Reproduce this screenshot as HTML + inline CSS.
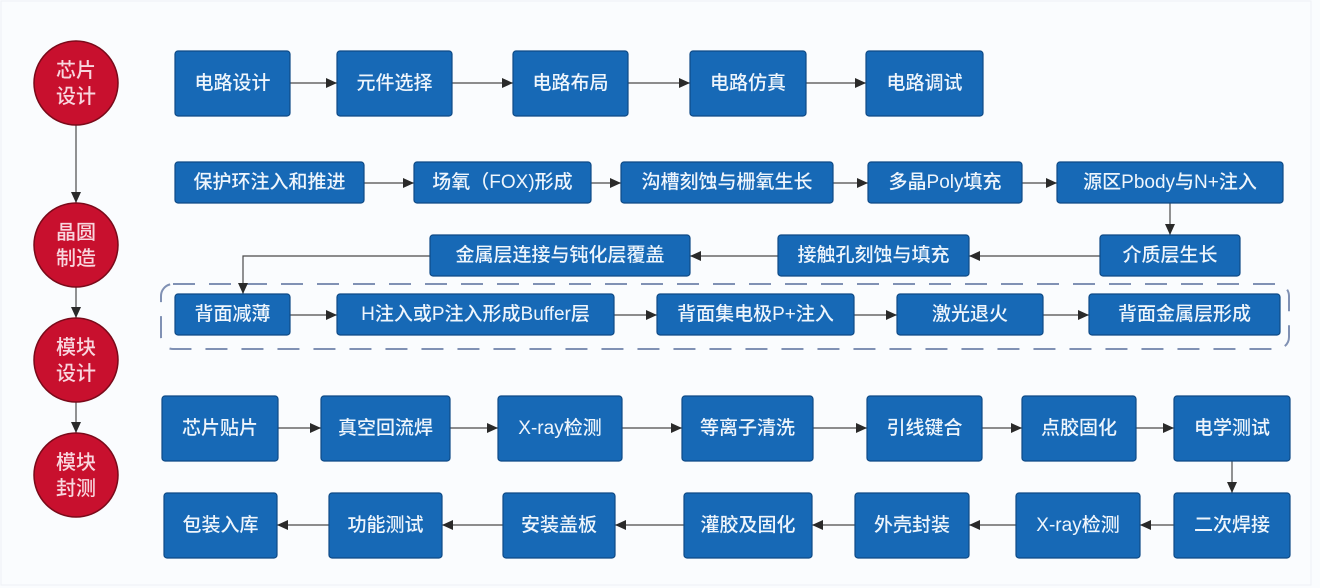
<!DOCTYPE html>
<html><head><meta charset="utf-8">
<style>
html,body{margin:0;padding:0;background:#fafcfe;}
svg{display:block;}
.b{fill:#1769b6;stroke:#0e4a86;stroke-width:1.2;}
.t{fill:#eef5fc;font-family:"Liberation Sans","Noto Sans CJK SC",sans-serif;font-size:19px;font-weight:500;text-anchor:middle;dominant-baseline:central;}
.c{fill:#c8102e;stroke:#7a0a1a;stroke-width:1.5;}
.ct{fill:#f8d6de;font-family:"Liberation Sans","Noto Sans CJK SC",sans-serif;font-size:20px;font-weight:500;text-anchor:middle;dominant-baseline:central;}
.l{stroke:#4a4a4a;stroke-width:1.2;fill:none;}
</style></head>
<body>
<svg width="1320" height="588" viewBox="0 0 1320 588" xmlns="http://www.w3.org/2000/svg">
<defs>
<marker id="a" markerWidth="12" markerHeight="10" refX="11" refY="5" orient="auto" markerUnits="userSpaceOnUse">
<path d="M0,0 L11,5 L0,10 z" fill="#2a2a2a"/>
</marker>
</defs>
<rect x="0" y="0" width="1320" height="588" fill="#fafcfe"/>
<rect x="1" y="1" width="1310" height="584" fill="none" stroke="#eef1f5" stroke-width="1"/>

<!-- left circles -->
<line class="l" x1="76" y1="125" x2="76" y2="203" marker-end="url(#a)"/>
<line class="l" x1="76" y1="287" x2="76" y2="318" marker-end="url(#a)"/>
<line class="l" x1="76" y1="402" x2="76" y2="433" marker-end="url(#a)"/>
<circle class="c" cx="76" cy="83" r="42"/>
<circle class="c" cx="76" cy="245" r="42"/>
<circle class="c" cx="76" cy="360" r="42"/>
<circle class="c" cx="76" cy="475" r="42"/>
<text class="ct" x="76" y="71">芯片</text><text class="ct" x="76" y="97">设计</text>
<text class="ct" x="76" y="233">晶圆</text><text class="ct" x="76" y="259">制造</text>
<text class="ct" x="76" y="348">模块</text><text class="ct" x="76" y="374">设计</text>
<text class="ct" x="76" y="463">模块</text><text class="ct" x="76" y="489">封测</text>

<!-- dashed group -->
<rect x="161" y="284" width="1128" height="65" rx="12" fill="none" stroke="#8091b4" stroke-width="2" stroke-dasharray="22 14"/>

<!-- connectors -->
<g class="l">
<line x1="290" y1="83" x2="337" y2="83" marker-end="url(#a)"/>
<line x1="452" y1="83" x2="513" y2="83" marker-end="url(#a)"/>
<line x1="628" y1="83" x2="690" y2="83" marker-end="url(#a)"/>
<line x1="806" y1="83" x2="866" y2="83" marker-end="url(#a)"/>

<line x1="364" y1="183" x2="414" y2="183" marker-end="url(#a)"/>
<line x1="591" y1="183" x2="621" y2="183" marker-end="url(#a)"/>
<line x1="833" y1="183" x2="868" y2="183" marker-end="url(#a)"/>
<line x1="1022" y1="183" x2="1057" y2="183" marker-end="url(#a)"/>
<line x1="1170" y1="203" x2="1170" y2="235" marker-end="url(#a)"/>

<line x1="1100" y1="256" x2="969" y2="256" marker-end="url(#a)"/>
<line x1="778" y1="256" x2="690" y2="256" marker-end="url(#a)"/>
<polyline points="430,256 243,256 243,294" marker-end="url(#a)"/>

<line x1="290" y1="315" x2="337" y2="315" marker-end="url(#a)"/>
<line x1="614" y1="315" x2="657" y2="315" marker-end="url(#a)"/>
<line x1="854" y1="315" x2="897" y2="315" marker-end="url(#a)"/>
<line x1="1043" y1="315" x2="1089" y2="315" marker-end="url(#a)"/>

<line x1="278" y1="428" x2="321" y2="428" marker-end="url(#a)"/>
<line x1="450" y1="428" x2="498" y2="428" marker-end="url(#a)"/>
<line x1="622" y1="428" x2="682" y2="428" marker-end="url(#a)"/>
<line x1="813" y1="428" x2="867" y2="428" marker-end="url(#a)"/>
<line x1="982" y1="428" x2="1022" y2="428" marker-end="url(#a)"/>
<line x1="1136" y1="428" x2="1174" y2="428" marker-end="url(#a)"/>
<line x1="1232" y1="461" x2="1232" y2="493" marker-end="url(#a)"/>

<line x1="1174" y1="525" x2="1140" y2="525" marker-end="url(#a)"/>
<line x1="1016" y1="525" x2="969" y2="525" marker-end="url(#a)"/>
<line x1="855" y1="525" x2="812" y2="525" marker-end="url(#a)"/>
<line x1="684" y1="525" x2="615" y2="525" marker-end="url(#a)"/>
<line x1="503" y1="525" x2="442" y2="525" marker-end="url(#a)"/>
<line x1="329" y1="525" x2="277" y2="525" marker-end="url(#a)"/>
</g>

<!-- row 1 -->
<rect class="b" x="175" y="51" width="115" height="65" rx="3"/><text class="t" x="232.5" y="83.5">电路设计</text>
<rect class="b" x="337" y="51" width="115" height="65" rx="3"/><text class="t" x="394.5" y="83.5">元件选择</text>
<rect class="b" x="513" y="51" width="115" height="65" rx="3"/><text class="t" x="570.5" y="83.5">电路布局</text>
<rect class="b" x="690" y="51" width="116" height="65" rx="3"/><text class="t" x="748" y="83.5">电路仿真</text>
<rect class="b" x="866" y="51" width="117" height="65" rx="3"/><text class="t" x="924.5" y="83.5">电路调试</text>

<!-- row 2 -->
<rect class="b" x="175" y="162" width="189" height="41" rx="3"/><text class="t" x="269.5" y="182.5">保护环注入和推进</text>
<rect class="b" x="414" y="162" width="177" height="41" rx="3"/><text class="t" x="502.5" y="182.5">场氧（FOX)形成</text>
<rect class="b" x="621" y="162" width="212" height="41" rx="3"/><text class="t" x="727" y="182.5">沟槽刻蚀与栅氧生长</text>
<rect class="b" x="868" y="162" width="154" height="41" rx="3"/><text class="t" x="945" y="182.5">多晶Poly填充</text>
<rect class="b" x="1057" y="162" width="226" height="41" rx="3"/><text class="t" x="1170" y="182.5">源区Pbody与N+注入</text>

<!-- row 3 -->
<rect class="b" x="430" y="235" width="260" height="41" rx="3"/><text class="t" x="560" y="255.5">金属层连接与钝化层覆盖</text>
<rect class="b" x="778" y="235" width="191" height="41" rx="3"/><text class="t" x="873.5" y="255.5">接触孔刻蚀与填充</text>
<rect class="b" x="1100" y="235" width="140" height="41" rx="3"/><text class="t" x="1170" y="255.5">介质层生长</text>

<!-- row 4 -->
<rect class="b" x="175" y="294" width="115" height="41" rx="3"/><text class="t" x="232.5" y="314.5">背面减薄</text>
<rect class="b" x="337" y="294" width="277" height="41" rx="3"/><text class="t" x="475.5" y="314.5">H注入或P注入形成Buffer层</text>
<rect class="b" x="657" y="294" width="197" height="41" rx="3"/><text class="t" x="755.5" y="314.5">背面集电极P+注入</text>
<rect class="b" x="897" y="294" width="146" height="41" rx="3"/><text class="t" x="970" y="314.5">激光退火</text>
<rect class="b" x="1089" y="294" width="191" height="41" rx="3"/><text class="t" x="1184.5" y="314.5">背面金属层形成</text>

<!-- row 5 -->
<rect class="b" x="162" y="396" width="116" height="65" rx="3"/><text class="t" x="220" y="428.5">芯片贴片</text>
<rect class="b" x="321" y="396" width="129" height="65" rx="3"/><text class="t" x="385.5" y="428.5">真空回流焊</text>
<rect class="b" x="498" y="396" width="124" height="65" rx="3"/><text class="t" x="560" y="428.5">X-ray检测</text>
<rect class="b" x="682" y="396" width="131" height="65" rx="3"/><text class="t" x="747.5" y="428.5">等离子清洗</text>
<rect class="b" x="867" y="396" width="115" height="65" rx="3"/><text class="t" x="924.5" y="428.5">引线键合</text>
<rect class="b" x="1022" y="396" width="114" height="65" rx="3"/><text class="t" x="1079" y="428.5">点胶固化</text>
<rect class="b" x="1174" y="396" width="116" height="65" rx="3"/><text class="t" x="1232" y="428.5">电学测试</text>

<!-- row 6 -->
<rect class="b" x="164" y="493" width="113" height="65" rx="3"/><text class="t" x="220.5" y="525.5">包装入库</text>
<rect class="b" x="329" y="493" width="113" height="65" rx="3"/><text class="t" x="385.5" y="525.5">功能测试</text>
<rect class="b" x="503" y="493" width="112" height="65" rx="3"/><text class="t" x="559" y="525.5">安装盖板</text>
<rect class="b" x="684" y="493" width="128" height="65" rx="3"/><text class="t" x="748" y="525.5">灌胶及固化</text>
<rect class="b" x="855" y="493" width="114" height="65" rx="3"/><text class="t" x="912" y="525.5">外壳封装</text>
<rect class="b" x="1016" y="493" width="124" height="65" rx="3"/><text class="t" x="1078" y="525.5">X-ray检测</text>
<rect class="b" x="1174" y="493" width="116" height="65" rx="3"/><text class="t" x="1232" y="525.5">二次焊接</text>
</svg>
</body></html>
